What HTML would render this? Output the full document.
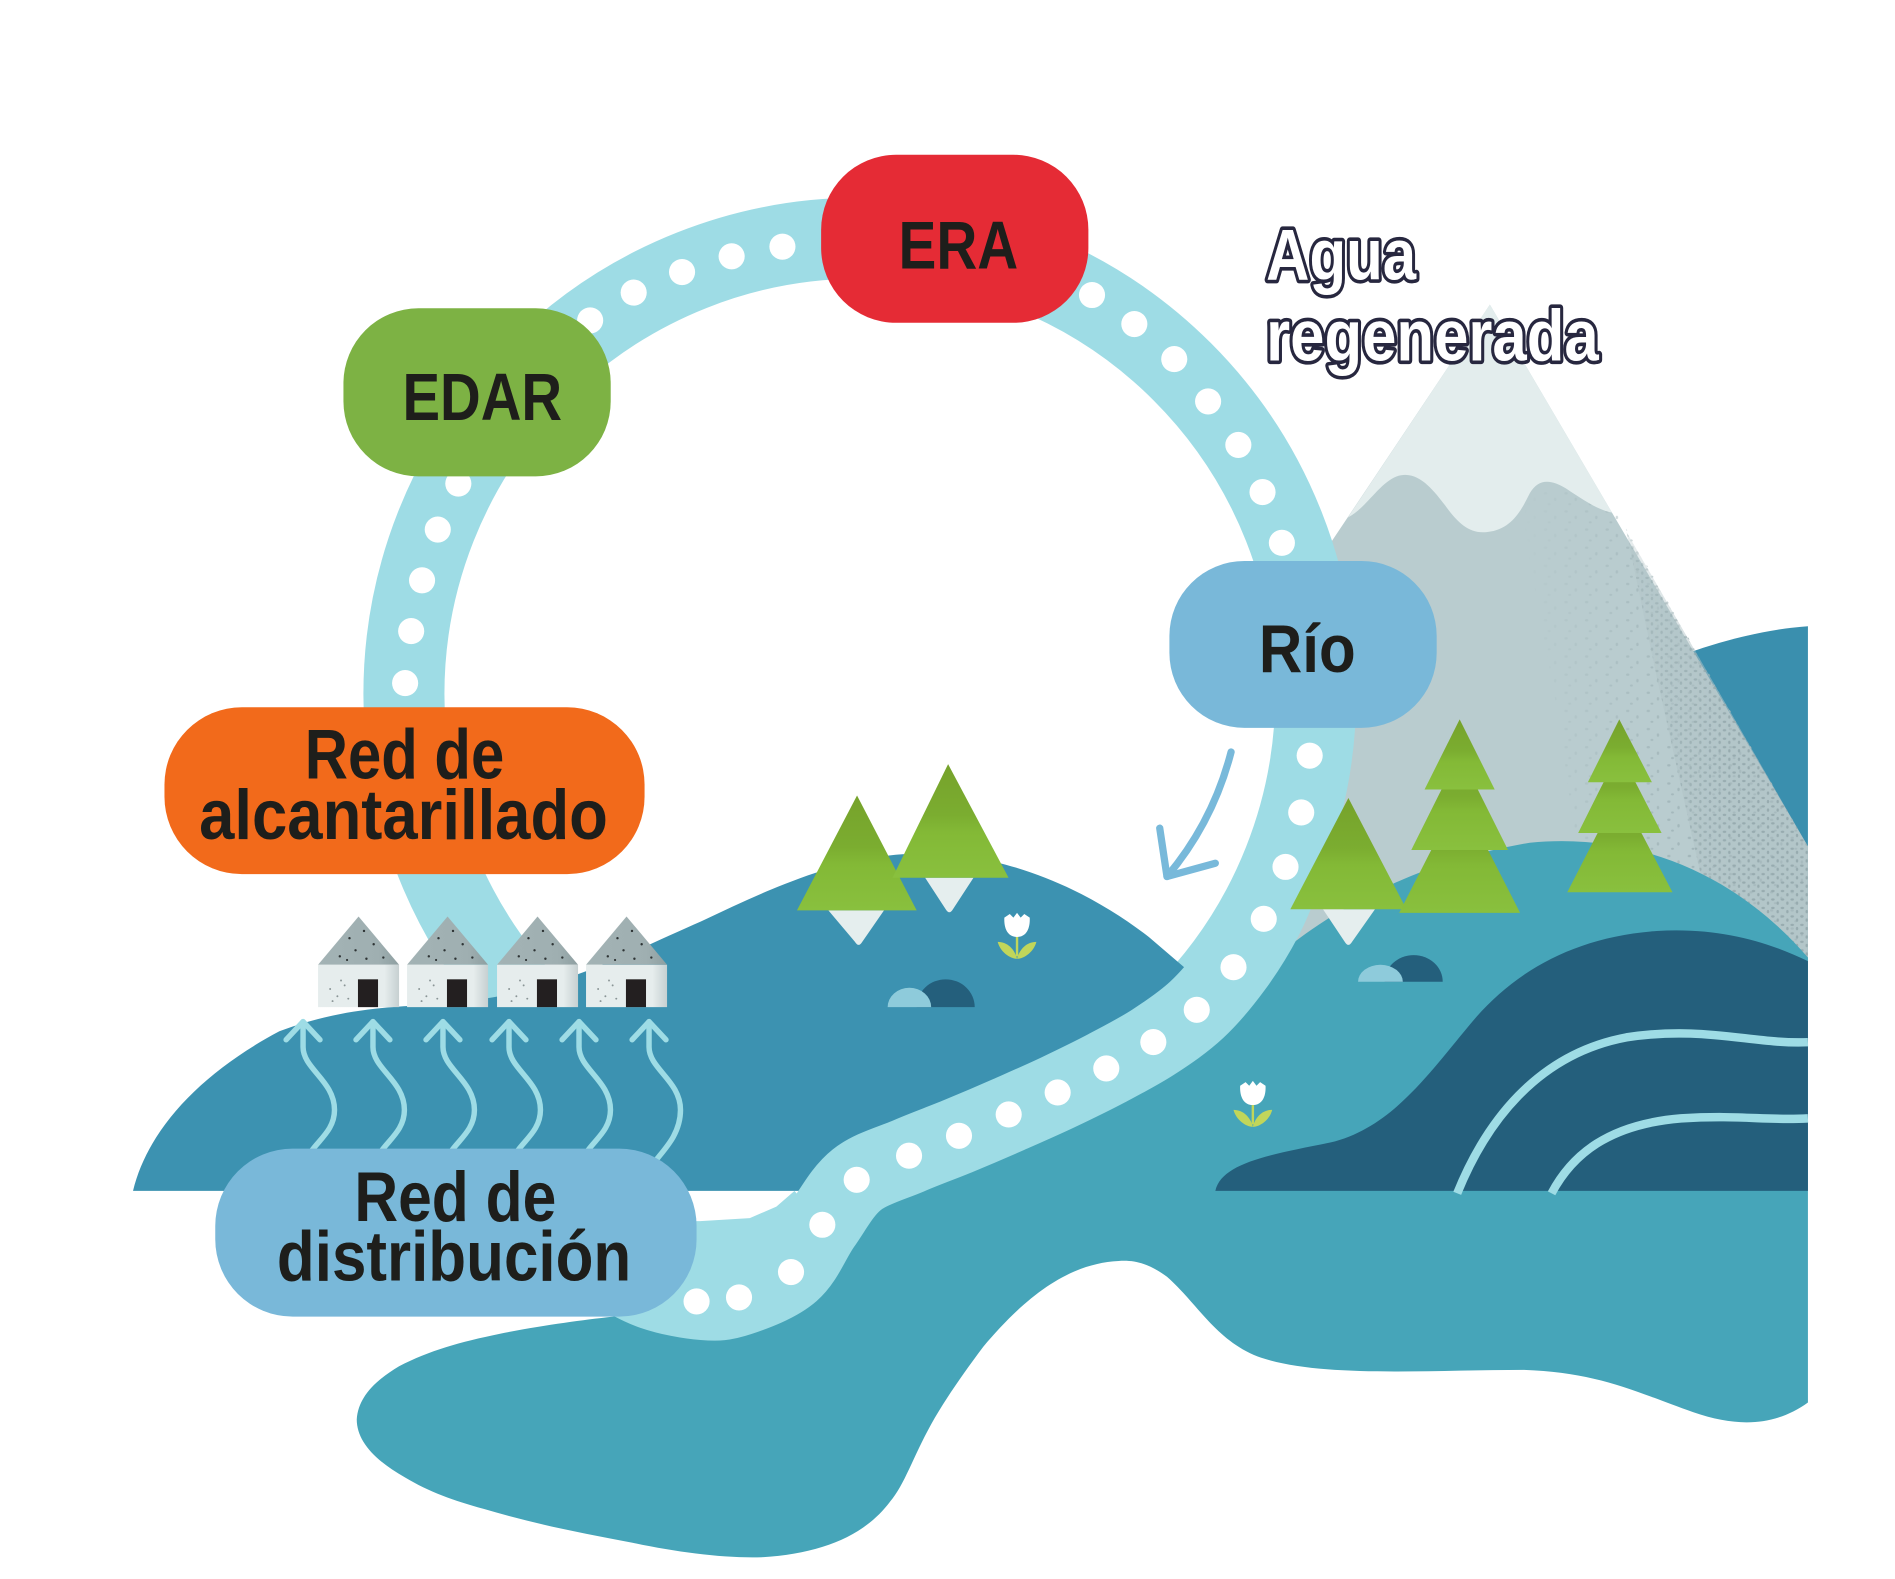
<!DOCTYPE html>
<html><head><meta charset="utf-8">
<style>
html,body{margin:0;padding:0;background:#fff;}
svg{display:block;}
text{font-family:"Liberation Sans Narrow","Liberation Sans",sans-serif;font-weight:bold;}
</style></head><body>
<svg width="1895" height="1579" viewBox="0 0 1567 1306" preserveAspectRatio="none" xmlns="http://www.w3.org/2000/svg">
<defs>
 <linearGradient id="tg" x1="0" y1="0" x2="0" y2="1">
  <stop offset="0" stop-color="#76a22b"/><stop offset="0.45" stop-color="#7bad30"/><stop offset="0.6" stop-color="#83b936"/><stop offset="1" stop-color="#89c03e"/>
 </linearGradient>
 <linearGradient id="wg" x1="0" y1="0" x2="1" y2="0">
  <stop offset="0" stop-color="#e6eded"/><stop offset="0.82" stop-color="#e6eded"/><stop offset="1" stop-color="#c6d0d1"/>
 </linearGradient>
 <linearGradient id="rg" x1="0" y1="0" x2="1" y2="0">
  <stop offset="0" stop-color="#a3b3b5"/><stop offset="0.75" stop-color="#9fafb1"/><stop offset="1" stop-color="#8e9fa1"/>
 </linearGradient>
 <linearGradient id="fade" gradientUnits="userSpaceOnUse" x1="1260" y1="0" x2="1430" y2="0">
  <stop offset="0" stop-color="#fff" stop-opacity="0"/><stop offset="1" stop-color="#fff" stop-opacity="1"/>
 </linearGradient>
 <mask id="fm" maskUnits="userSpaceOnUse" x="1200" y="350" width="300" height="500">
  <rect x="1200" y="350" width="300" height="500" fill="url(#fade)"/>
 </mask>
 <pattern id="sp1" width="17" height="15" patternUnits="userSpaceOnUse">
  <ellipse cx="3" cy="3" rx="1.4" ry="1" fill="#9cb0b4"/>
  <ellipse cx="11" cy="8" rx="1" ry="1.4" fill="#9cb0b4"/>
  <ellipse cx="6" cy="12" rx="1.2" ry="0.9" fill="#9cb0b4"/>
 </pattern>
 <pattern id="sp2" width="8" height="7" patternUnits="userSpaceOnUse">
  <ellipse cx="2" cy="2" rx="1.5" ry="1" fill="#97abaf"/>
  <ellipse cx="6" cy="5" rx="1" ry="1.4" fill="#97abaf"/>
 </pattern>
 <g id="house">
  <polygon points="0,798 33.5,758 67,798" fill="url(#rg)"/>
  <rect x="0" y="798" width="67" height="35" fill="url(#wg)"/>
  <rect x="33" y="810" width="16.6" height="23" fill="#231f20"/>
  <g fill="#2e3435">
   <circle cx="26" cy="776" r="1"/><circle cx="38" cy="770" r="1"/><circle cx="31" cy="786" r="1"/>
   <circle cx="46" cy="781" r="1"/><circle cx="18" cy="791" r="1"/><circle cx="54" cy="792" r="1"/>
   <circle cx="40" cy="793" r="1"/><circle cx="24" cy="794" r="0.9"/>
  </g>
  <g fill="#8a9596">
   <circle cx="10" cy="818" r="0.8"/><circle cx="16" cy="824" r="0.8"/><circle cx="22" cy="815" r="0.8"/>
   <circle cx="12" cy="828" r="0.8"/><circle cx="25" cy="826" r="0.8"/><circle cx="19" cy="811" r="0.8"/>
  </g>
 </g>
 <g id="tulip">
  <path d="M-10.5,4 L-6,1 L-3,4 L0,0 L3,4 L6,1 L10.5,4 C11,14 7,20 0,20 C-7,20 -11,14 -10.5,4 Z" fill="#ffffff"/>
  <line x1="0" y1="20" x2="0" y2="36" stroke="#c1d65a" stroke-width="2"/>
  <path d="M0,38 C-6,38 -14,32 -16,24 C-8,24 -2,30 0,38 Z" fill="#c1d65a"/>
  <path d="M0,38 C6,38 14,32 16,24 C8,24 2,30 0,38 Z" fill="#c1d65a"/>
 </g>
</defs>

<!-- far hill -->
<path d="M1396,540 C1430,528 1465,520 1495,518 L1495,830 L1396,830 Z" fill="#3a8fae"/>

<!-- mountain -->
<path d="M1232,252 L1093,460 L1081,500 L1088,574 L1083,625 L1076,672 L1063,717 L1045,760 L1020,800 L1000,830 L1495,830 L1495,700 Z" fill="#b9cccf"/>
<g mask="url(#fm)">
 <path d="M1255,410 L1300,404 L1337,424 L1495,700 L1495,830 L1320,830 L1290,600 Z" fill="url(#sp1)"/>
 <path d="M1345,440 L1495,700 L1495,830 L1430,830 L1370,560 Z" fill="#afc1c4" opacity="0.6"/>
 <path d="M1345,440 L1495,700 L1495,830 L1430,830 L1370,560 Z" fill="url(#sp2)"/>
</g>
<path d="M1232,252 L1114.6,428 C1130,420 1140,400 1155,394 C1172,388 1185,405 1195,418 C1205,432 1215,442 1230,440 C1250,438 1258,422 1265,408 C1272,396 1282,396 1295,404 C1310,414 1322,422 1333,424 Z" fill="#e3eded"/>

<!-- ring -->
<circle cx="711" cy="574" r="377" fill="none" stroke="#9edce5" stroke-width="67"/>

<!-- right teal region + lake -->
<path d="M1000,835 L1045,800 C1090,760 1160,715 1265,697 C1360,688 1440,728 1495,792 L1495,1160 C1470,1178 1440,1182 1400,1168 C1350,1150 1320,1135 1260,1133 C1180,1133 1090,1140 1040,1122 C1005,1108 990,1078 965,1056 C950,1045 938,1042 925,1043 C885,1045 850,1070 813,1114 C795,1138 780,1160 770,1178 C755,1205 748,1228 736,1242 C715,1270 680,1285 630,1288 C600,1289 560,1284 523,1276 C480,1268 440,1260 400,1248 C375,1241 355,1234 335,1222 C310,1208 295,1192 295,1174 C296,1156 310,1142 330,1130 C355,1117 380,1110 414,1103 C450,1096 480,1092 507,1089 L600,1060 L700,985 Z" fill="#46a5b9"/>

<!-- dark navy hill -->
<path d="M1005,985 C1010,962 1050,955 1100,945 C1150,933 1180,890 1215,848 C1250,805 1300,775 1370,770 C1420,767 1460,778 1495,795 L1495,985 Z" fill="#245f7c"/>
<path d="M1205,987 C1228,930 1270,872 1345,858 C1410,848 1450,864 1495,862" fill="none" stroke="#9edce5" stroke-width="7"/>
<path d="M1283,987 C1300,955 1330,930 1390,925 C1440,922 1460,927 1495,925" fill="none" stroke="#9edce5" stroke-width="7"/>

<!-- left / middle hill -->
<path d="M110,985 C122,935 165,888 231,853 C265,840 300,834 340,832 C400,829 440,820 480,805 C520,790 550,775 580,762 C640,733 700,707 757,706 C835,704 905,740 950,775 L985,805 L989.6,835.2 L953.7,861.9 L914.8,883.7 L874.6,903.6 L834.1,921.8 L793,939.4 L751.7,955.9 L708.4,975.8 L690,985 Z" fill="#3c92b1"/>

<!-- river band -->
<path d="M657,985 L642,998 L620,1007.5 L579,1010 L520,1010 L520,1075 L611,1073 L654,1052 L680,1013 Z" fill="#9edce5"/>
<path d="M1063,717 C1057.8,731.7 1052.2,746.2 1045,760 C1037.8,773.8 1029.2,787.5 1020,800 C1010.8,812.5 1000.6,824.9 989.6,835.2 C978.5,845.5 966.2,853.8 953.7,861.9 C941.2,870 928,876.7 914.8,883.7 C901.6,890.7 888,897.2 874.6,903.6 C861.1,910 847.7,915.8 834.1,921.8 C820.5,927.8 806.7,933.7 793,939.4 C779.3,945.1 765.8,949.8 751.7,955.9 C737.6,962 720.4,966.3 708.4,975.8 C696.5,985.3 689,1000.3 680,1013 C671,1025.7 665.6,1042.1 654.1,1052.1 C642.6,1062.1 623.2,1069 611.1,1073.1 C599,1077.1 593.5,1077.3 581.6,1076.4 C569.8,1075.6 552.8,1072.4 540,1068 C527.2,1063.6 515,1056 505,1050" fill="none" stroke="#9edce5" stroke-width="64"/>

<!-- dots -->
<g fill="#ffffff">
 <circle cx="488" cy="265" r="10.8"/><circle cx="524" cy="242" r="10.8"/><circle cx="564" cy="225" r="10.8"/><circle cx="605" cy="212" r="10.8"/><circle cx="647" cy="204" r="10.8"/>
 <circle cx="903" cy="244" r="10.8"/><circle cx="938" cy="268" r="10.8"/><circle cx="971" cy="297" r="10.8"/><circle cx="999" cy="332" r="10.8"/><circle cx="1024" cy="368" r="10.8"/><circle cx="1044" cy="407" r="10.8"/><circle cx="1060" cy="449" r="10.8"/>
 <circle cx="379" cy="400" r="10.8"/><circle cx="362" cy="438" r="10.8"/><circle cx="349" cy="480" r="10.8"/><circle cx="340" cy="522" r="10.8"/><circle cx="335" cy="565" r="10.8"/>
 <circle cx="1083" cy="625" r="10.8"/><circle cx="1076" cy="672" r="10.8"/><circle cx="1063" cy="717" r="10.8"/><circle cx="1045" cy="760" r="10.8"/><circle cx="1020" cy="800" r="10.8"/>
 <circle cx="989.6" cy="835.2" r="10.8"/><circle cx="953.7" cy="861.9" r="10.8"/><circle cx="914.8" cy="883.7" r="10.8"/><circle cx="874.6" cy="903.6" r="10.8"/><circle cx="834.1" cy="921.8" r="10.8"/>
 <circle cx="793" cy="939.4" r="10.8"/><circle cx="751.7" cy="955.9" r="10.8"/><circle cx="708.4" cy="975.8" r="10.8"/><circle cx="680" cy="1013" r="10.8"/><circle cx="654.1" cy="1052.1" r="10.8"/>
 <circle cx="611.1" cy="1073.1" r="10.8"/><circle cx="576" cy="1076.4" r="10.8"/>
</g>

<!-- trees middle hill -->
<path d="M685,753 L731,753 L713,779 Q710,784 707,779 Z" fill="#e5eeee"/>
<polygon points="708.7,658 659,753 758,753" fill="url(#tg)"/>
<path d="M765,726 L805,726 L788,752 Q785,757 782,752 Z" fill="#e5eeee"/>
<polygon points="784,632 738,726 834,726" fill="url(#tg)"/>

<!-- rocks 1 -->
<path d="M758,833 A24,23 0 0 1 806,833 Z" fill="#245f7c"/>
<path d="M734,833 A18,16 0 0 1 770,833 Z" fill="#8ecbdb"/>
<!-- rocks 2 -->
<path d="M1145,812 A24,22 0 0 1 1193,812 Z" fill="#245f7c"/>
<path d="M1123,812 A18.5,14 0 0 1 1160,812 Z" fill="#8ecbdb"/>

<!-- tulips -->
<use href="#tulip" transform="translate(841,755)"/>
<use href="#tulip" transform="translate(1036,894)"/>

<!-- right trees -->
<path d="M1094,752 L1137,752 L1118,779 Q1115,784 1112,779 Z" fill="#e5eeee"/>
<polygon points="1115,660 1067,752 1163,752" fill="url(#tg)"/>

<polygon points="1207,657 1157,755 1257,755" fill="url(#tg)"/>
<polygon points="1207,623 1167,703 1247,703" fill="url(#tg)"/>
<polygon points="1207,595 1178,653 1236,653" fill="url(#tg)"/>

<polygon points="1339,654 1296,738 1383,738" fill="url(#tg)"/>
<polygon points="1339,621 1305,689 1374,689" fill="url(#tg)"/>
<polygon points="1339,595 1313,647 1366,647" fill="url(#tg)"/>

<!-- houses -->
<use href="#house" x="263" y="0"/>
<use href="#house" x="336.6" y="0"/>
<use href="#house" x="411" y="0"/>
<use href="#house" x="484.6" y="0"/>

<!-- wavy arrows -->
<g fill="none" stroke="#9edce5" stroke-width="4.5" stroke-linecap="round" stroke-linejoin="round">
 <path d="M250.6,845 L250.6,866 C250.6,884 276.6,894 276.6,918 C276.6,934 264.6,942 257.6,952"/>
 <path d="M236.6,860 L250.6,845 L264.6,860"/>
 <path d="M308.4,845 L308.4,866 C308.4,884 334.4,894 334.4,918 C334.4,934 322.4,942 315.4,952"/>
 <path d="M294.4,860 L308.4,845 L322.4,860"/>
 <path d="M366.3,845 L366.3,866 C366.3,884 392.3,894 392.3,918 C392.3,934 380.3,942 373.3,952"/>
 <path d="M352.3,860 L366.3,845 L380.3,860"/>
 <path d="M420.9,845 L420.9,866 C420.9,884 446.9,894 446.9,918 C446.9,934 434.9,942 427.9,952"/>
 <path d="M406.9,860 L420.9,845 L434.9,860"/>
 <path d="M478.8,845 L478.8,866 C478.8,884 504.8,894 504.8,918 C504.8,934 492.8,942 485.8,952"/>
 <path d="M464.8,860 L478.8,845 L492.8,860"/>
 <path d="M536.7,845 L536.7,866 C536.7,884 562.7,894 562.7,918 C562.7,936 552,948 543.7,958"/>
 <path d="M522.7,860 L536.7,845 L550.7,860"/>
</g>

<!-- blue curved arrow -->
<g fill="none" stroke="#78b9da" stroke-width="6" stroke-linecap="round" stroke-linejoin="round">
 <path d="M1018,622 Q1003,680 965,725"/>
 <path d="M959,685 L965,725 L1005,714"/>
</g>

<!-- pills -->
<rect x="679" y="128" width="221" height="139" rx="62" ry="62" fill="#e52b35"/>
<text x="792.5" y="222" font-size="56" text-anchor="middle" textLength="99" lengthAdjust="spacingAndGlyphs" fill="#1e1e1b">ERA</text>

<rect x="284" y="255" width="221" height="139" rx="62" ry="62" fill="#7db244"/>
<text x="398.8" y="347.5" font-size="55" text-anchor="middle" textLength="132" lengthAdjust="spacingAndGlyphs" fill="#1e1e1b">EDAR</text>

<rect x="136" y="585" width="397" height="138" rx="64" ry="64" fill="#f26a1b"/>
<text x="334.5" y="644" font-size="58" text-anchor="middle" textLength="165" lengthAdjust="spacingAndGlyphs" fill="#1e1e1b">Red de</text>
<text x="333.7" y="694" font-size="58" text-anchor="middle" textLength="338" lengthAdjust="spacingAndGlyphs" fill="#1e1e1b">alcantarillado</text>

<rect x="967" y="464" width="221" height="138" rx="62" ry="62" fill="#79b8d9"/>
<text x="1081" y="556" font-size="56" text-anchor="middle" textLength="80" lengthAdjust="spacingAndGlyphs" fill="#1e1e1b">Río</text>

<rect x="178" y="950" width="398" height="139" rx="64" ry="64" fill="#79b8d9"/>
<text x="376.5" y="1010" font-size="58" text-anchor="middle" textLength="167" lengthAdjust="spacingAndGlyphs" fill="#1e1e1b">Red de</text>
<text x="375.5" y="1059" font-size="58" text-anchor="middle" textLength="293" lengthAdjust="spacingAndGlyphs" fill="#1e1e1b">distribución</text>

<!-- Agua regenerada -->
<text x="1047" y="231" font-size="60" fill="#ffffff" stroke="#27273f" stroke-width="6" paint-order="stroke" stroke-linejoin="round" textLength="124" lengthAdjust="spacingAndGlyphs">Agua</text>
<text x="1047" y="298" font-size="60" fill="#ffffff" stroke="#27273f" stroke-width="6" paint-order="stroke" stroke-linejoin="round" textLength="275" lengthAdjust="spacingAndGlyphs">regenerada</text>
</svg>
</body></html>
